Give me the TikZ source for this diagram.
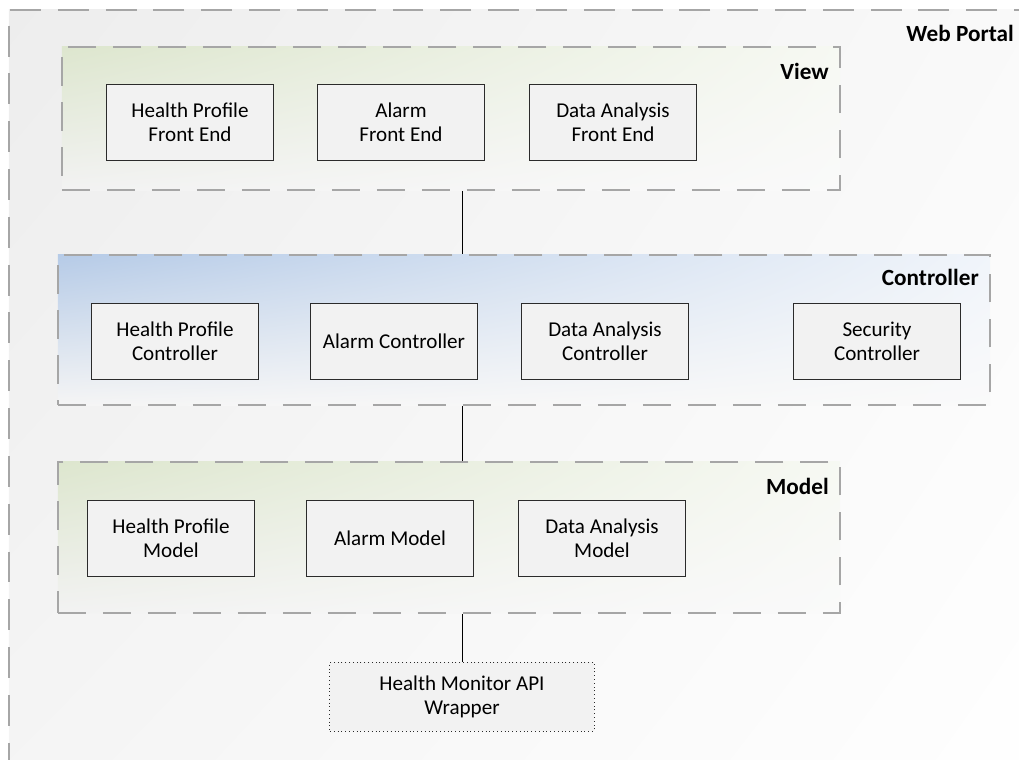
\documentclass[tikz,border=0pt]{standalone}
\usepackage{fontspec}
\setmainfont{Carlito}
\usepackage{tikz}
\usetikzlibrary{shadings}
\definecolor{mvcgray}{HTML}{A6A6A6}
\definecolor{mvcbox}{HTML}{F2F2F2}
\definecolor{mvcline}{HTML}{2B2B2B}
\definecolor{mvcgreen}{HTML}{DDE6CE}
\definecolor{mvcblue}{HTML}{B6CBE7}

\begin{document}
\begin{tikzpicture}[x=0.025cm, y=-0.025cm,
    font=\fontsize{15}{17}\selectfont,
    layer/.style={draw=mvcgray, line width=1.3pt, dash pattern=on 20pt off 12pt, inner sep=0pt},
    part/.style={draw=mvcline, fill=mvcbox, line width=0.7pt, minimum width=4.15cm, minimum height=1.875cm, align=center, inner sep=2pt},
    title/.style={font=\fontsize{16.5}{19}\selectfont\bfseries, anchor=base east, inner sep=0pt}]
\useasboundingbox (0,0) rectangle (1019,760);
\clip (0,0) rectangle (1019,760);

% web portal
\node[layer, dash pattern=on 22pt off 12pt, minimum width=26.5cm, minimum height=19.5cm,
  upper left=black!7, upper right=white!98!black, lower left=white!96!black, lower right=white] (portal) at (539,400) {};
\node[title] (portaltitle) at (1014,42) {Web Portal};

% view
\node[layer, minimum width=19.45cm, minimum height=3.575cm,
  upper left=mvcgreen, upper right=mvcgreen!25!white, lower left=white!95!black, lower right=white!98!black] (view) at (451,118.5) {};
\node[title] at ([shift={(-12,33)}]view.north east) {View};
\node[part] (hpfront) at (190,122.5) {Health Profile\\Front End};
\node[part] (alfront) at (401,122.5) {Alarm\\Front End};
\node[part] (dafront) at (613,122.5) {Data Analysis\\Front End};

% controller
\node[layer, minimum width=23.3cm, minimum height=3.75cm,
  upper left=mvcblue, upper right=mvcblue!20!white, lower left=white!96!black, lower right=white!98!black] (ctrl) at (524,330) {};
\node[title] at ([shift={(-12,31)}]ctrl.north east) {Controller};
\node[part] (hpctrl) at (175,341.5) {Health Profile\\Controller};
\node[part] (alctrl) at (394,341.5) {Alarm Controller};
\node[part] (dactrl) at (605,341.5) {Data Analysis\\Controller};
\node[part] (secctrl) at (877,341.5) {Security\\Controller};

% model
\node[layer, minimum width=19.55cm, minimum height=3.775cm,
  upper left=mvcgreen, upper right=mvcgreen!25!white, lower left=white!95!black, lower right=white!98!black] (model) at (449,537.5) {};
\node[title] at ([shift={(-12,33)}]model.north east) {Model};
\node[part] (hpmodel) at (171,538.5) {Health Profile\\Model};
\node[part] (almodel) at (390,538.5) {Alarm Model};
\node[part] (damodel) at (602,538.5) {Data Analysis\\Model};

% api
\node[part, dotted, minimum width=6.6cm, minimum height=1.725cm] (api) at (462,696.5) {Health Monitor API\\Wrapper};

\draw[line width=0.7pt] (view.south -| api) -- (ctrl.north -| api);
\draw[line width=0.7pt] (ctrl.south -| api) -- (model.north -| api);
\draw[line width=0.7pt] (model.south -| api) -- (api.north);
\end{tikzpicture}
\end{document}
